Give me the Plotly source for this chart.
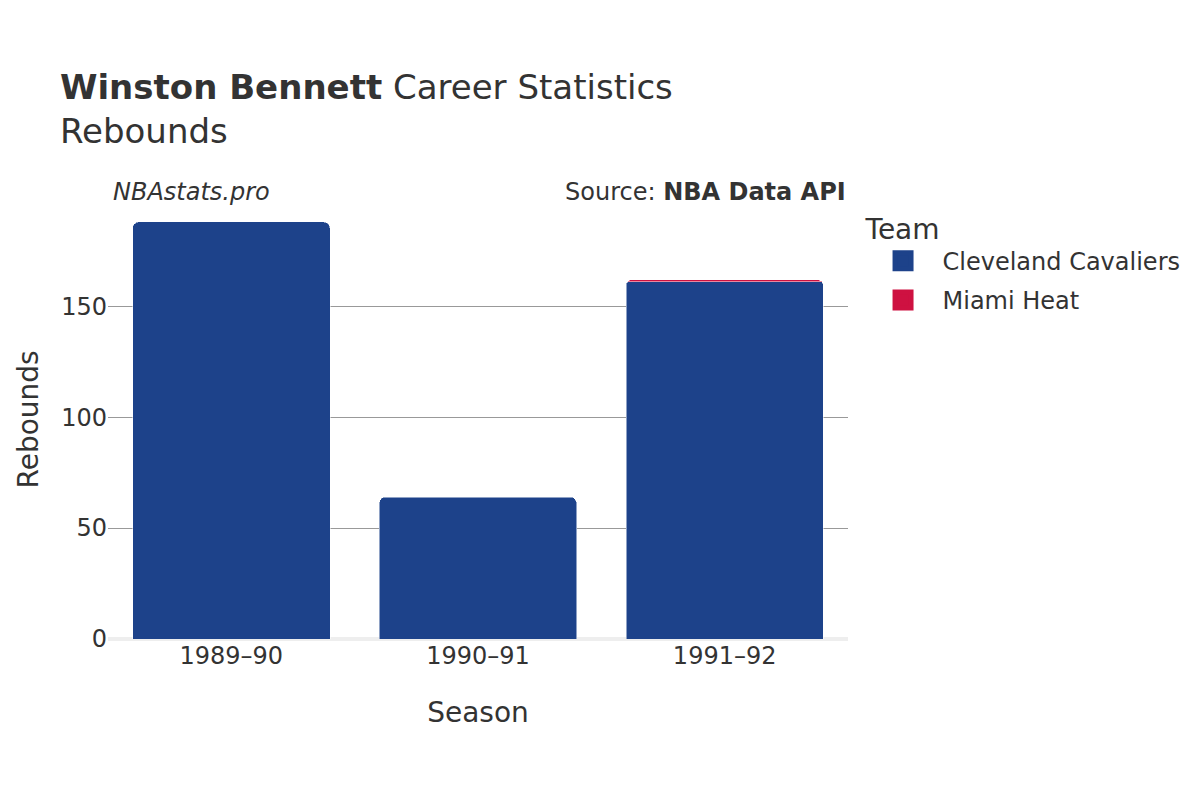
import plotly.graph_objects as go

seasons = ["1989–90", "1990–91", "1991–92"]
cavaliers_reb = [188, 64, 161]
heat_seasons = ["1991–92"]
heat_reb = [1]

team_colors = {"Cleveland Cavaliers": "#1D428A", "Miami Heat": "#CE1141"}
font_family = "DejaVu Sans"

fig = go.Figure()
fig.add_trace(go.Bar(
    x=seasons, y=cavaliers_reb, name="Cleveland Cavaliers", showlegend=False,
    marker=dict(color=team_colors["Cleveland Cavaliers"], line=dict(color="rgba(255,255,255,0.5)", width=1)),
))
fig.add_trace(go.Bar(
    x=heat_seasons, y=heat_reb, name="Miami Heat", showlegend=False,
    marker=dict(color=team_colors["Miami Heat"], line=dict(color="rgba(255,255,255,0.5)", width=1)),
))
# legend-only entries with bigger square swatches
for team, col in team_colors.items():
    fig.add_trace(go.Scatter(
        x=[None], y=[None], mode="markers", name=team, legendgroup=team,
        marker=dict(symbol="square", size=16, color=col, line=dict(color=col, width=6)),
    ))

fig.update_layout(
    barmode="stack",
    barcornerradius=6,
    bargap=0.2,
    width=1200, height=800,
    plot_bgcolor="white", paper_bgcolor="white",
    font=dict(family=font_family, color="#333333", size=24),
    margin=dict(l=100, r=360, t=192, b=169),
    title=dict(
        text="<b>Winston Bennett</b> Career Statistics<br>Rebounds",
        x=0.0433, xanchor="left", y=0.886, yanchor="top",
        font=dict(size=34, color="#333333"),
    ),
    legend=dict(
        title=dict(text="Team", font=dict(size=28)),
        font=dict(size=24),
        x=1.021, xanchor="left", y=0.995, yanchor="top",
        itemsizing="trace", itemwidth=69,
        traceorder="grouped", tracegroupgap=5,
    ),
    xaxis=dict(
        title=dict(text="Season", font=dict(size=28), standoff=33),
        tickfont=dict(size=24),
        showgrid=False,
    ),
    yaxis=dict(
        tickfont=dict(size=24),
        automargin=False,
        showgrid=True, gridcolor="#999999", gridwidth=1,
        zeroline=True, zerolinecolor="#eeeeee", zerolinewidth=4,
        tickvals=[0, 50, 100, 150],
    ),
    annotations=[
        dict(text="<i>NBAstats.pro</i>", x=0.0, xref="paper", y=1.018, yref="paper",
             xanchor="left", yanchor="middle", showarrow=False, font=dict(size=24, color="#333333"),
             xshift=3),
        dict(text="Source: <b>NBA Data API</b>", x=1.0, xref="paper", y=1.018, yref="paper",
             xanchor="right", yanchor="middle", showarrow=False, font=dict(size=24, color="#333333")),
        dict(text="Rebounds", textangle=-90, x=0.0, xref="paper", y=0.5, yref="paper",
             xanchor="center", yanchor="middle", xshift=-80, showarrow=False, borderpad=0,
             font=dict(size=28, color="#333333")),
    ],
)

fig.write_html("out.html")
